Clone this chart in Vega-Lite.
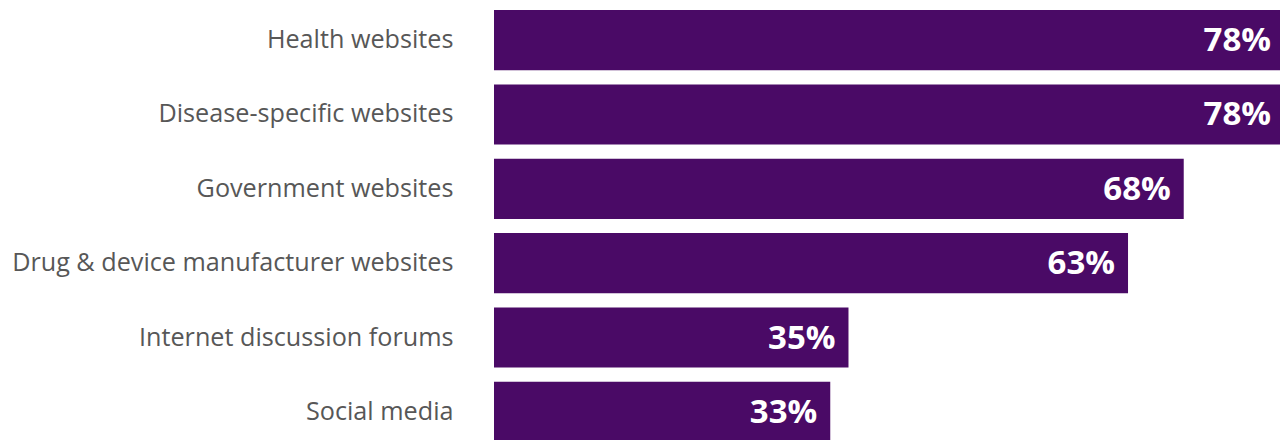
{
  "$schema": "https://vega.github.io/schema/vega-lite/v6.json",
  "autosize": "none",
  "padding": {"left": 494, "top": 0, "right": 0, "bottom": 0},
  "width": 790,
  "height": 452,
  "background": "white",
  "data": {"values": [
    {"source": "Health websites", "share": 0.78},
    {"source": "Disease-specific websites", "share": 0.78},
    {"source": "Government websites", "share": 0.681},
    {"source": "Drug & device manufacturer websites", "share": 0.626},
    {"source": "Internet discussion forums", "share": 0.35},
    {"source": "Social media", "share": 0.332}
  ]},
  "encoding": {
    "y": {"field": "source", "type": "nominal", "sort": null,
      "scale": {"paddingInner": 0.19, "paddingOuter": 0.135},
      "axis": {"title": null, "domain": false, "ticks": false, "labelPadding": 41,
        "labelFont": "Open Sans", "labelFontSize": 25.2, "labelColor": "#575757", "labelLimit": 0}},
    "x": {"field": "share", "type": "quantitative", "scale": {"domain": [0, 0.78], "nice": false}, "axis": null}
  },
  "layer": [
    {"mark": {"type": "bar", "color": "#4a0a66"}},
    {"mark": {"type": "text", "align": "right", "baseline": "middle", "dx": -13, "dy": 1, "color": "white",
      "font": "Open Sans", "fontWeight": "bold", "fontSize": 33},
     "encoding": {"text": {"field": "share", "type": "quantitative", "format": ".0%"}}}
  ],
  "config": {"view": {"stroke": null}}
}
